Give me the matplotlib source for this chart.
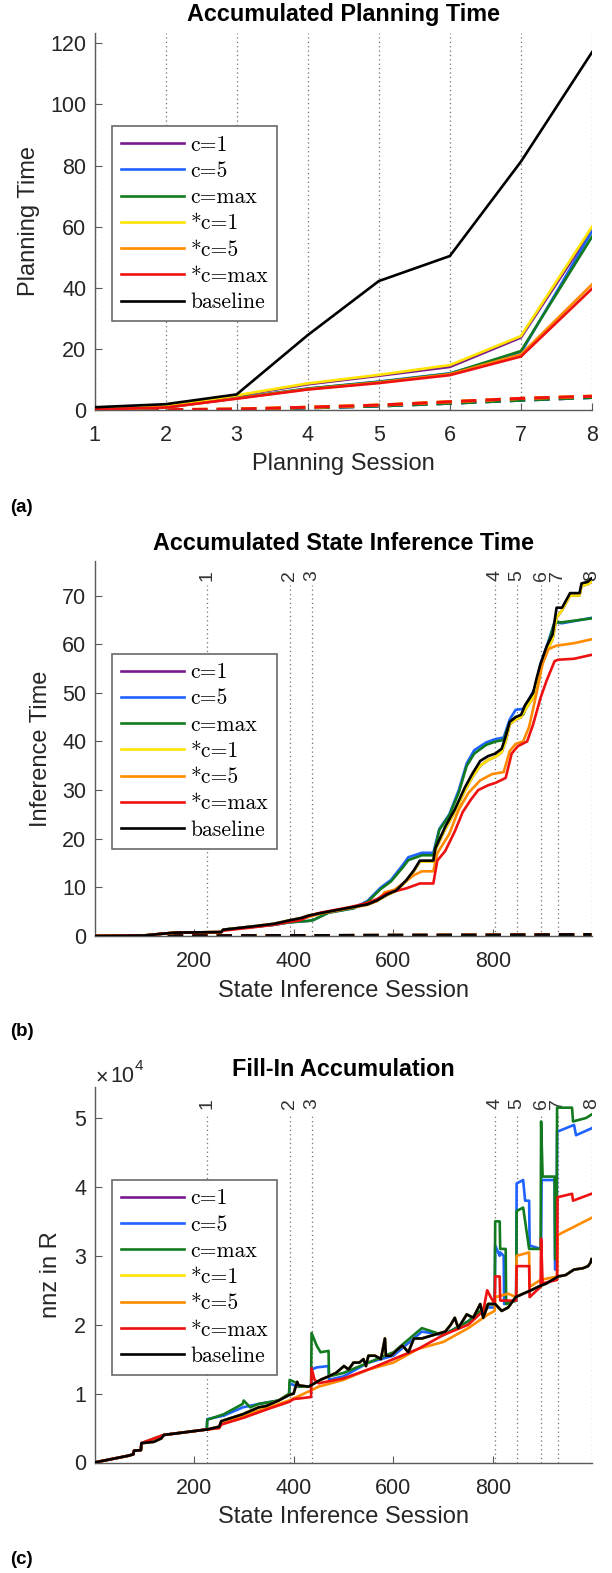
import matplotlib
matplotlib.use("Agg")
import matplotlib.pyplot as plt
from matplotlib.ticker import FixedLocator, FuncFormatter

plt.rcParams['font.family'] = ['Liberation Sans', 'DejaVu Sans']

# ---------------- data ----------------
LABELS = ['c=1', 'c=5', 'c=max', '*c=1', '*c=5', '*c=max', 'baseline']
COLORS = ['#7B1A8E', '#1E62FF', '#137B1F', '#FFE400', '#FF8C00', '#EE1111', '#000000']

# (a) accumulated planning time
A_SESSIONS = [1, 2, 3, 4, 5, 6, 7, 8]
A_C1 = [0.3, 1.1, 4.6, 8.4, 11.2, 14.1, 23.7, 59.0]
A_C5 = [0.2, 0.8, 3.9, 7.0, 9.3, 12.0, 18.7, 58.5]
A_CMAX = [0.2, 0.8, 3.9, 7.0, 9.2, 11.9, 19.3, 56.7]
A_SC1 = [0.3, 1.2, 4.8, 8.7, 11.5, 14.7, 24.2, 60.0]
A_SC5 = [0.2, 0.8, 3.8, 6.8, 9.0, 11.7, 18.2, 41.1]
A_SCMAX = [0.2, 0.8, 3.7, 6.7, 8.8, 11.4, 17.5, 39.7]
A_BASE = [0.9, 1.9, 5.1, 24.5, 42.2, 50.4, 81.3, 117.1]
A_DASH_C = [0.0, 0.05, 0.2, 0.7, 1.3, 2.2, 3.2, 4.1]
A_DASH_S = [0.0, 0.1, 0.3, 0.9, 1.6, 2.7, 3.8, 4.5]

# (b) accumulated state inference time
B_SESSION_LINES = [227, 392, 436, 804, 847, 896, 929, 998]
B_X_BASE = [1, 100, 140, 165, 255, 259, 320, 360, 391, 415, 430, 454, 485, 516, 548,
            567, 587, 606, 626, 641, 653, 680, 684, 704, 723, 743, 759, 774, 790, 804,
            817, 825, 833, 845, 856, 864, 880, 887, 895, 907, 919, 927, 938, 946, 954,
            966, 973, 977, 989, 997]
B_BASE = [0, 0.1, 0.5, 0.7, 0.8, 1.3, 2.0, 2.5, 3.2, 3.7, 4.2, 4.7, 5.3, 5.9, 6.5,
          7.3, 8.5, 9.4, 11.5, 13.5, 15.5, 15.5, 18, 22.5, 26, 30.5, 33.5, 36, 37, 37.5,
          38.5, 41, 44, 45, 45.5, 47.5, 50, 53, 56, 59.5, 62, 67.5, 67.5, 69, 70.5,
          70.5, 70.5, 72.5, 72.8, 73.5]
B_SC1 = [0, 0.1, 0.5, 0.7, 0.8, 1.3, 2.0, 2.5, 3.2, 3.7, 4.2, 4.7, 5.3, 5.9, 6.5,
         7.2, 8.4, 9.3, 11.3, 13.3, 15.3, 15.3, 17.7, 22.0, 25.5, 29.8, 32.8, 35.0, 36.2, 36.8,
         37.8, 40.0, 43.5, 44.5, 45.0, 46.5, 49.0, 52.3, 55.0, 58.5, 61.0, 65.5, 67.0, 68.5, 70.0,
         70.0, 70.0, 72.0, 72.3, 72.8]
B_C1 = B_SC1
B_X_C5 = [1, 100, 140, 165, 255, 259, 320, 360, 391, 415, 430, 440, 470, 520, 548, 575,
          595, 618, 630, 657, 680, 692, 712, 731, 747, 762, 786, 805, 821, 833, 845, 860,
          868, 884, 895, 907, 923, 938, 997]
B_C5 = [0, 0.1, 0.5, 0.7, 0.8, 1.3, 1.9, 2.3, 2.8, 3.0, 3.1, 3.3, 4.8, 5.7, 7.2, 10,
        11.5, 14.5, 16.2, 17.1, 17.1, 22, 25, 30, 35.5, 38.2, 39.8, 40.5, 40.8, 44.5, 46.5, 46.7,
        48, 51, 56, 59.5, 64.5, 64.3, 65.4]
B_CMAX = [0, 0.1, 0.5, 0.7, 0.8, 1.3, 1.9, 2.3, 2.8, 3.0, 3.1, 3.3, 4.8, 5.7, 7.0, 9.7,
          11.2, 14, 15.6, 16.6, 16.6, 21.8, 24.8, 29.5, 35, 37.5, 39.3, 40, 40.3, 44, 45, 45.5,
          47.5, 50.5, 55.5, 59, 64.5, 64.5, 65.3]
B_X_SC5 = [1, 100, 140, 165, 255, 259, 320, 360, 391, 415, 430, 454, 485, 516, 548, 567,
           583, 602, 622, 641, 657, 680, 688, 712, 731, 751, 774, 798, 821, 833, 845, 860,
           872, 887, 899, 911, 927, 962, 997]
B_SC5 = [0, 0.1, 0.5, 0.7, 0.8, 1.2, 1.9, 2.4, 3.0, 3.5, 3.9, 4.6, 5.2, 5.8, 6.4, 7.2,
         9, 9.5, 11, 12.5, 13.3, 13.3, 17, 21, 26, 29.5, 32, 33.3, 33.7, 38, 39.5, 40,
         43, 50, 56, 59, 59.7, 60.2, 61]
B_X_SCMAX = [1, 100, 140, 165, 255, 259, 320, 360, 391, 415, 430, 454, 485, 516, 548, 567,
             587, 626, 653, 680, 688, 704, 723, 739, 755, 770, 790, 805, 825, 837, 849, 868,
             880, 895, 907, 923, 930, 962, 997]
B_SCMAX = [0, 0.1, 0.5, 0.7, 0.8, 1.1, 1.8, 2.3, 2.9, 3.3, 4.1, 4.8, 5.4, 6.0, 6.8, 7.6,
           8.8, 9.8, 10.8, 10.8, 15.5, 17.5, 21.5, 25.5, 28, 30, 31, 31.5, 32.5, 37.5, 39, 40,
           43.5, 49, 52.5, 56.5, 56.8, 57.0, 57.8]
B_X_DASH = [1, 400, 800, 997]
B_DASH = [0.0, 0.08, 0.18, 0.3]

# (c) fill-in accumulation (nnz in R)
C_X_BASE = [1, 70, 79, 80, 94, 95, 120, 135, 140, 227, 251, 255, 298, 330, 345, 370, 391,
            400, 407, 410, 430, 454, 470, 485, 501, 510, 520, 532, 540, 545, 550, 563, 575,
            583, 585, 595, 610, 618, 630, 641, 657, 680, 704, 715, 723, 730, 747, 760, 774,
            780, 790, 804, 817, 830, 845, 860, 876, 890, 907, 930, 945, 962, 980, 990, 995, 997]
C_BASE = [0, 1000, 1200, 1700, 1800, 2800, 3000, 3500, 4000, 4800, 5200, 6000, 7000, 8000,
          8200, 9000, 9800, 10000, 11700, 11200, 11000, 12000, 12500, 13000, 14000, 13500,
          14500, 14500, 15000, 14000, 15500, 15500, 15000, 18000, 15500, 15500, 16500, 17000,
          16000, 18000, 18000, 18500, 19000, 20000, 21000, 19500, 21500, 21000, 23000, 21000,
          23000, 23000, 22000, 22500, 24000, 24500, 25000, 25500, 26000, 27000, 27200, 28000,
          28200, 28500, 29000, 29500]
C_C1 = C_BASE
C_SC1 = C_BASE
C_X_CMAX = [1, 70, 79, 80, 94, 95, 140, 226, 227, 260, 298, 300, 313, 330, 370, 391, 392,
            407, 410, 430, 435, 436, 446, 454, 470, 471, 500, 550, 600, 657, 700, 750, 790,
            803, 804, 813, 814, 825, 826, 846, 847, 860, 872, 873, 895, 896, 899, 923, 924,
            927, 928, 958, 960, 986, 997]
C_CMAX = [0, 1000, 1200, 1700, 1800, 2800, 4000, 4800, 6200, 7000, 8500, 9000, 8000, 8500,
          9000, 10000, 12000, 11500, 11000, 11000, 11000, 18800, 17000, 16000, 16200, 12500,
          13000, 14500, 16000, 19500, 18500, 20500, 23000, 23000, 35000, 35000, 31000, 31000,
          23000, 23500, 36500, 37000, 31000, 31000, 31000, 49500, 41500, 41500, 29500, 29500,
          51500, 51500, 49500, 50000, 50500]
C_X_C5 = [1, 70, 79, 80, 94, 95, 140, 226, 227, 260, 298, 330, 370, 391, 392, 407, 430,
          435, 436, 446, 470, 471, 500, 550, 600, 657, 700, 750, 790, 803, 804, 813, 814,
          821, 822, 846, 847, 860, 864, 872, 873, 895, 896, 897, 923, 924, 927, 928, 962,
          966, 997]
C_C5 = [0, 1000, 1200, 1700, 1800, 2800, 4000, 4800, 6300, 6800, 8000, 8500, 9000, 9800,
        11500, 11000, 11000, 11000, 13500, 13800, 14000, 12000, 12500, 14500, 15500, 19000,
        18500, 20500, 22500, 22500, 31500, 30000, 30500, 30000, 23000, 23500, 40500, 41000,
        38000, 38000, 31500, 31000, 31000, 41000, 41000, 28000, 28000, 48000, 49000, 47500,
        48500]
C_X_SCMAX = [1, 70, 79, 80, 94, 95, 140, 227, 251, 255, 300, 350, 391, 400, 435, 436, 442,
             450, 500, 550, 600, 650, 700, 750, 780, 788, 795, 803, 804, 813, 814, 846, 847,
             872, 873, 895, 896, 899, 928, 929, 958, 960, 997]
C_SCMAX = [0, 1000, 1200, 1700, 1800, 2800, 4000, 4800, 5000, 5500, 6500, 7800, 8800, 9200,
           9500, 13700, 12000, 11500, 12200, 13500, 15000, 16500, 18500, 20000, 22000, 25000,
           24000, 23000, 27000, 27000, 23500, 23500, 28500, 28500, 24000, 25500, 32500, 26000,
           26500, 38500, 39000, 38000, 39000]
C_X_SC5 = [1, 70, 79, 80, 94, 95, 140, 227, 251, 255, 300, 350, 391, 436, 450, 500, 550,
           600, 650, 700, 750, 790, 803, 804, 830, 846, 847, 872, 873, 895, 928, 929, 997]
C_SC5 = [0, 1000, 1200, 1700, 1800, 2800, 4000, 4800, 5000, 5700, 6800, 8000, 9000, 10500,
         11000, 12000, 13500, 14500, 16500, 17500, 19500, 21500, 22000, 24000, 24500, 24000,
         30000, 30500, 25500, 26500, 27000, 33000, 35500]

# ---------------- figure ----------------
W, H = 612, 1573
fig = plt.figure(figsize=(W / 100, H / 100), dpi=100)

AX_L, AX_R = 94.5, 592.0
TXT = '#262626'
AXC = '#5a5a5a'
FS_TICK = 15.5
FS_LAB = 17


def px_axes(top, bottom):
    return fig.add_axes([AX_L / W, 1 - bottom / H, (AX_R - AX_L) / W, (bottom - top) / H])


def style(ax):
    for s in ['top', 'right']:
        ax.spines[s].set_visible(False)
    for s in ['left', 'bottom']:
        ax.spines[s].set_color(AXC)
        ax.spines[s].set_linewidth(1.0)
    ax.tick_params(direction='in', length=5, width=0.8, color=AXC, labelcolor=TXT,
                   labelsize=FS_TICK)
    ax.tick_params(axis='x', pad=11)
    ax.tick_params(axis='y', pad=6)


def legend(ax):
    leg = ax.legend(loc='upper left', bbox_to_anchor=(0.035, 0.753), borderaxespad=0,
                    prop={'family': 'cmr10', 'size': 15.6}, handlelength=2.9,
                    handletextpad=0.3, labelspacing=0.31, borderpad=0.42,
                    fancybox=False, framealpha=1, edgecolor='#6a6a6a')
    leg.get_frame().set_linewidth(1.2)


def texts(top, bottom, title, xlabel, ylabel, ylx, xly):
    cx = (AX_L + AX_R) / 2 / W
    fig.text(cx, 1 - (top - 18) / H, title, ha='center', va='center',
             fontsize=16.8, fontweight='bold', color='#000000')
    fig.text(cx, 1 - xly / H, xlabel, ha='center', va='center', fontsize=FS_LAB, color=TXT)
    fig.text(ylx / W, 1 - (top + bottom) / 2 / H, ylabel, ha='center', va='center',
             rotation=90, fontsize=FS_LAB, color=TXT)


def session_lines(ax, xs, ymax):
    for i, x in enumerate(xs):
        ax.axvline(x, ymin=0, ymax=ymax, ls=(0, (1, 2.5)), color='#707070', lw=0.9, zorder=1)
        ax.text(x, ymax + 0.027, str(i + 1), transform=ax.get_xaxis_transform(),
                rotation=90, ha='center', va='center', fontsize=14, color='#333333')


LW = 1.9

# ---- (a)
ta, ba = 33, 410
axa = px_axes(ta, ba)
style(axa)
for x in A_SESSIONS:
    axa.axvline(x, ls=(0, (1, 2.5)), color='#707070', lw=0.9, zorder=1)
a_series = [A_C1, A_C5, A_CMAX, A_SC1, A_SC5, A_SCMAX, A_BASE]
a_dash = [A_DASH_C, A_DASH_C, A_DASH_C, A_DASH_S, A_DASH_S, A_DASH_S]
for ys, c, lab in zip(a_series, COLORS, LABELS):
    axa.plot(A_SESSIONS, ys, color=c, lw=LW, label=lab, zorder=3)
for ys, c in zip(a_dash, COLORS):
    axa.plot(A_SESSIONS, ys, color=c, lw=2.2, ls=(0, (5, 3)), zorder=2)
axa.set_xlim(1, 8)
axa.set_ylim(0, 123.4)
axa.set_xticks(A_SESSIONS)
axa.set_yticks([0, 20, 40, 60, 80, 100, 120])
legend(axa)
texts(ta, ba, 'Accumulated Planning Time', 'Planning Session', 'Planning Time', 29, 464)

# ---- (b)
tb, bb = 561, 936
axb = px_axes(tb, bb)
style(axb)
session_lines(axb, B_SESSION_LINES, 0.935)
b_series = [(B_X_BASE, B_C1), (B_X_C5, B_C5), (B_X_C5, B_CMAX), (B_X_BASE, B_SC1),
            (B_X_SC5, B_SC5), (B_X_SCMAX, B_SCMAX), (B_X_BASE, B_BASE)]
for (xs, ys), c, lab in zip(b_series, COLORS, LABELS):
    axb.plot(xs, ys, color=c, lw=LW, label=lab, zorder=3)
for c in COLORS:
    axb.plot(B_X_DASH, B_DASH, color=c, lw=2.2, ls=(0, (5, 3)), zorder=2)
axb.set_xlim(1, 998)
axb.set_ylim(0, 77.1)
axb.set_xticks([200, 400, 600, 800])
axb.set_yticks([0, 10, 20, 30, 40, 50, 60, 70])
legend(axb)
texts(tb, bb, 'Accumulated State Inference Time', 'State Inference Session',
      'Inference Time', 41, 991)

# ---- (c)
tc, bc = 1087, 1462.5
axc = px_axes(tc, bc)
style(axc)
session_lines(axc, B_SESSION_LINES, 0.93)
c_series = [(C_X_BASE, C_C1), (C_X_C5, C_C5), (C_X_CMAX, C_CMAX), (C_X_BASE, C_SC1),
            (C_X_SC5, C_SC5), (C_X_SCMAX, C_SCMAX), (C_X_BASE, C_BASE)]
for (xs, ys), c, lab in zip(c_series, COLORS, LABELS):
    axc.plot(xs, ys, color=c, lw=LW, label=lab, zorder=3)
axc.set_xlim(1, 998)
axc.set_ylim(0, 54500)
axc.set_xticks([200, 400, 600, 800])
axc.yaxis.set_major_locator(FixedLocator([0, 10000, 20000, 30000, 40000, 50000]))
axc.yaxis.set_major_formatter(FuncFormatter(lambda v, p: f'{v / 1e4:g}'))
legend(axc)
texts(tc, bc, 'Fill-In Accumulation', 'State Inference Session', 'nnz in R', 51, 1517)
fig.text(96 / W, 1 - 1078 / H, '\u00d7', ha='left', va='center', fontsize=15.5, color=TXT)
fig.text(110 / W, 1 - 1077 / H, '10', ha='left', va='center', fontsize=FS_TICK, color=TXT)
fig.text(135 / W, 1 - 1066 / H, '4', ha='left', va='center', fontsize=11, color=TXT)

# panel letters
for lab, y in [('(a)', 507), ('(b)', 1031), ('(c)', 1559)]:
    fig.text(10 / W, 1 - y / H, lab, ha='left', va='center', fontsize=13.5,
             fontweight='bold', color='#000000')

fig.savefig('out.png', dpi=100)
